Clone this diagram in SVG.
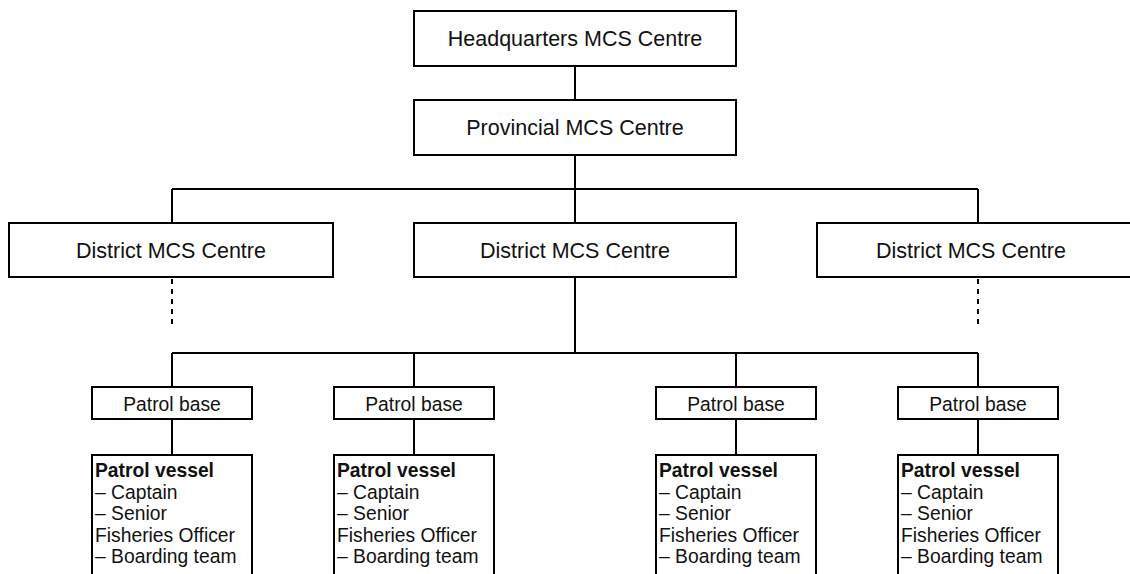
<svg xmlns="http://www.w3.org/2000/svg" width="1130" height="574" viewBox="0 0 1130 574">
<style>
.box{fill:#fff;stroke:#000;stroke-width:2}
.ln{fill:none;stroke:#000;stroke-width:2}
.dash{fill:none;stroke:#000;stroke-width:2;stroke-dasharray:5 5}
.t1{font-family:"Liberation Sans",Arial,sans-serif;font-size:21.5px;fill:#111;text-anchor:middle}
.t2{font-family:"Liberation Sans",Arial,sans-serif;font-size:19.3px;fill:#111;text-anchor:middle}
.t3{font-family:"Liberation Sans",Arial,sans-serif;font-size:19.3px;fill:#111}
.b{font-weight:bold}
</style>
<rect width="1130" height="574" fill="#fff"/>
<g id="connectors">
<path class="ln" d="M575 66V100M575 155V223M172 189H978M172 189V223M978 189V223"/>
<path class="dash" d="M172 279V327M978 279V327"/>
<path class="ln" d="M575 277V353M172 353H978M172 353V387M414 353V387M736 353V387M978 353V387"/>
<path class="ln" d="M172 419V455M414 419V455M736 419V455M978 419V455"/>
</g>
<g id="hq"><rect class="box" x="414" y="11" width="322" height="55"/><text class="t1" x="575" y="46">Headquarters MCS Centre</text></g>
<g id="provincial"><rect class="box" x="414" y="100" width="322" height="55"/><text class="t1" x="575" y="135">Provincial MCS Centre</text></g>
<g id="district1"><rect class="box" x="9" y="223" width="324" height="54"/><text class="t1" x="171" y="257.5">District MCS Centre</text></g>
<g id="district2"><rect class="box" x="414" y="223" width="322" height="54"/><text class="t1" x="575" y="257.5">District MCS Centre</text></g>
<g id="district3"><rect class="box" x="817" y="223" width="324" height="54"/><text class="t1" x="971" y="257.5">District MCS Centre</text></g>
<g id="base1"><rect class="box" x="92" y="387" width="160" height="32"/><text class="t2" x="172" y="410.5">Patrol base</text></g>
<g id="base2"><rect class="box" x="334" y="387" width="160" height="32"/><text class="t2" x="414" y="410.5">Patrol base</text></g>
<g id="base3"><rect class="box" x="656" y="387" width="160" height="32"/><text class="t2" x="736" y="410.5">Patrol base</text></g>
<g id="base4"><rect class="box" x="898" y="387" width="160" height="32"/><text class="t2" x="978" y="410.5">Patrol base</text></g>
<g id="vessel1"><rect class="box" x="92" y="455" width="160" height="130"/>
<text class="t3" x="95"><tspan class="b" x="95" y="477">Patrol vessel</tspan><tspan x="95" y="498.5">– Captain</tspan><tspan x="95" y="520">– Senior</tspan><tspan x="95" y="541.5">Fisheries Officer</tspan><tspan x="95" y="563">– Boarding team</tspan></text></g>
<g id="vessel2"><rect class="box" x="334" y="455" width="160" height="130"/>
<text class="t3" x="337"><tspan class="b" x="337" y="477">Patrol vessel</tspan><tspan x="337" y="498.5">– Captain</tspan><tspan x="337" y="520">– Senior</tspan><tspan x="337" y="541.5">Fisheries Officer</tspan><tspan x="337" y="563">– Boarding team</tspan></text></g>
<g id="vessel3"><rect class="box" x="656" y="455" width="160" height="130"/>
<text class="t3" x="659"><tspan class="b" x="659" y="477">Patrol vessel</tspan><tspan x="659" y="498.5">– Captain</tspan><tspan x="659" y="520">– Senior</tspan><tspan x="659" y="541.5">Fisheries Officer</tspan><tspan x="659" y="563">– Boarding team</tspan></text></g>
<g id="vessel4"><rect class="box" x="898" y="455" width="160" height="130"/>
<text class="t3" x="901"><tspan class="b" x="901" y="477">Patrol vessel</tspan><tspan x="901" y="498.5">– Captain</tspan><tspan x="901" y="520">– Senior</tspan><tspan x="901" y="541.5">Fisheries Officer</tspan><tspan x="901" y="563">– Boarding team</tspan></text></g>
</svg>
